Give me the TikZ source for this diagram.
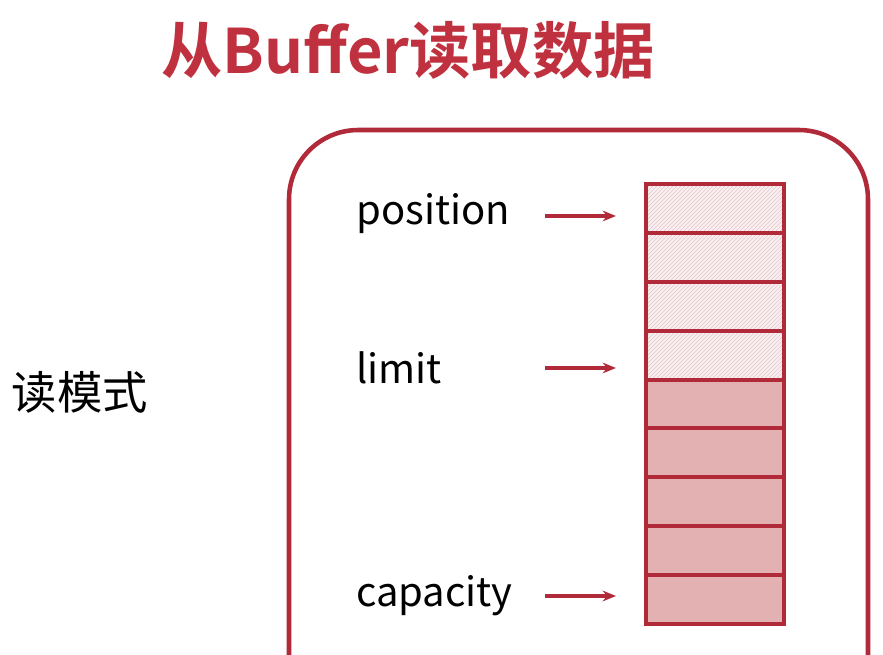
\documentclass[tikz,border=0pt]{standalone}
\usepackage{fontspec}
\setmainfont{Noto Sans CJK SC}
\newfontfamily\titlefont{Noto Sans CJK SC}[BoldFont={* Bold}]
\usepackage{xcolor}
\usetikzlibrary{arrows.meta,positioning,patterns}

\definecolor{bufred}{HTML}{B02A3A}
\definecolor{titlered}{HTML}{C0313F}
\definecolor{fullpink}{HTML}{E3B1B1}
\definecolor{readpink}{HTML}{F8F0F1}
\definecolor{hatchpink}{HTML}{E6C6CA}

\begin{document}
\begin{tikzpicture}[
  x=0.75pt, y=-0.75pt,
  label/.style={font=\fontsize{30}{33}\selectfont, text=black, inner sep=0pt},
  cell/.style={draw=bufred, line width=3pt, minimum width=103.5pt, minimum height=36.7pt, inner sep=0pt},
  readcell/.style={cell, preaction={fill=readpink}, pattern=north east lines, pattern color=hatchpink},
  fullcell/.style={cell, fill=fullpink},
  arrow/.style={-{Stealth[length=10pt, width=8pt]}, line width=2.6pt, draw=bufred}
]
\clip (0,0) rectangle (883,655);
\fill[white] (0,0) rectangle (883,655);

% title and mode
\node[font=\titlefont\bfseries\fontsize{46}{50}\selectfont, text=titlered] (title) at (408,50) {从Buffer读取数据};
\node[label, font=\fontsize{34}{37}\selectfont] (mode) at (80,392) {读模式};

% outer frame
\draw[bufred, line width=3.4pt, rounded corners=52pt] (289,130) rectangle (868,760);

% buffer cells
\foreach \i in {1,...,9}{
  \ifnum\i<5
    \node[readcell] (c\i) at (715,{184+48.9*(\i-0.5)}) {};
  \else
    \node[fullcell] (c\i) at (715,{184+48.9*(\i-0.5)}) {};
  \fi
}

% pointers
\node[label, anchor=west] (position) at (356,214) {position};
\node[label, anchor=west] (limit) at (356,368) {limit};
\node[label, anchor=west] (capacity) at (356,596) {capacity};
\coordinate (posTail) at (545,216);
\coordinate (posTip) at (616,216);
\coordinate (limTail) at (545,368);
\coordinate (limTip) at (616,368);
\coordinate (capTail) at (545,596);
\coordinate (capTip) at (616,596);
\draw[arrow] (posTail) -- (posTip);
\draw[arrow] (limTail) -- (limTip);
\draw[arrow] (capTail) -- (capTip);
\end{tikzpicture}
\end{document}
